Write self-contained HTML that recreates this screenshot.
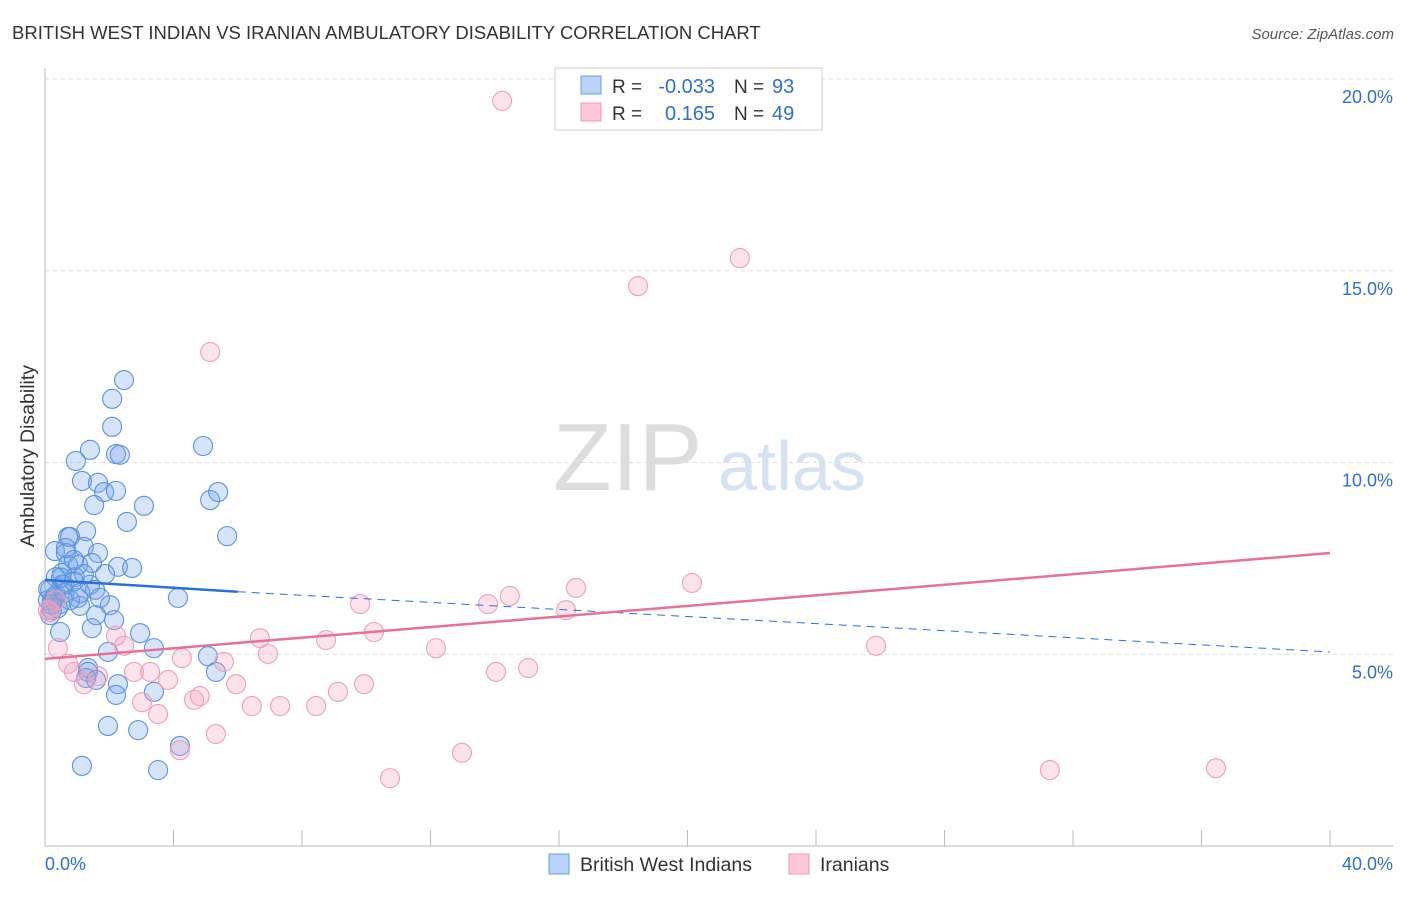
<!DOCTYPE html>
<html><head><meta charset="utf-8"><style>
body{margin:0;background:#fff;font-family:"Liberation Sans",sans-serif;}
svg text{font-family:"Liberation Sans",sans-serif;}
</style></head><body>
<svg id="c" width="1406" height="892">
<text x="12" y="39" font-size="18.5" fill="#333">BRITISH WEST INDIAN VS IRANIAN AMBULATORY DISABILITY CORRELATION CHART</text>
<text x="1394" y="39" font-size="15" fill="#555" font-style="italic" text-anchor="end">Source: ZipAtlas.com</text>
<text x="553" y="490" font-size="96" fill="#ddd" font-family="Liberation Serif">ZIP</text>
<text x="718" y="490" font-size="70" fill="#d4e2f4">atlas</text>
<g id="grid"></g>
<g id="axes"></g>
<g id="marks"></g>
<text transform="translate(34,456) rotate(-90)" font-size="19.5" fill="#333" text-anchor="middle">Ambulatory Disability</text>
<g>
<rect x="555" y="68" width="267" height="62" fill="#fff" stroke="#ccc"/>
<rect x="581" y="76" width="20" height="18" fill="#b8d3f5" stroke="#6a9de0"/>
<rect x="581" y="103" width="20" height="18" fill="#fac8d6" stroke="#ec9ab4"/>
<text x="612" y="93" font-size="19" fill="#333">R =</text>
<text x="715" y="93" font-size="20" fill="#2c6fd6" text-anchor="end">-0.033</text>
<text x="734" y="93" font-size="19" fill="#333">N =</text>
<text x="772" y="93" font-size="20" fill="#2c6fd6">93</text>
<text x="612" y="120" font-size="19" fill="#333">R =</text>
<text x="715" y="120" font-size="20" fill="#2c6fd6" text-anchor="end">0.165</text>
<text x="734" y="120" font-size="19" fill="#333">N =</text>
<text x="772" y="120" font-size="20" fill="#2c6fd6">49</text>
</g>
<g>
<rect x="549" y="854" width="20" height="20" fill="#b8d3f5" stroke="#6a9de0"/>
<text x="580" y="871" font-size="19.5" fill="#333">British West Indians</text>
<rect x="789" y="854" width="20" height="20" fill="#fac8d6" stroke="#ec9ab4"/>
<text x="820" y="871" font-size="19.5" fill="#333">Iranians</text>
</g>
</svg>
<script>
const blueX=[2.46,2.09,2.09,2.21,2.33,1.40,0.96,1.15,1.65,1.84,2.21,1.53,3.08,2.55,4.92,5.14,5.39,5.67,0.72,0.78,1.28,0.31,0.65,1.21,1.65,0.72,1.03,0.53,1.46,2.27,2.71,1.87,0.34,0.93,1.40,0.59,0.16,0.22,0.47,1.03,1.56,1.09,2.02,2.15,4.14,0.47,1.46,2.96,1.96,3.39,5.07,5.32,1.34,1.34,1.28,1.59,2.27,2.21,3.39,1.96,2.90,4.20,1.15,3.52,0.09,0.22,0.34,0.53,0.78,1.71,1.21,0.90,0.65,1.59,0.16,0.3,0.1,0.4,0.6,0.9,1.1,0.2,0.5];
const blueY=[12.15,11.66,10.93,10.22,10.20,10.33,10.04,9.52,9.47,9.23,9.26,8.89,8.87,8.45,10.43,9.02,9.23,8.08,8.06,8.06,8.21,7.69,7.64,7.80,7.64,7.33,7.33,7.12,7.38,7.28,7.25,7.09,7.01,7.01,6.81,6.81,6.68,6.41,6.31,6.47,6.68,6.26,6.28,5.89,6.47,5.58,5.68,5.55,5.06,5.16,4.95,4.54,4.64,4.54,4.38,4.33,4.22,3.94,4.02,3.13,3.02,2.61,2.09,1.98,6.41,6.15,6.54,6.81,6.41,6.47,7.09,7.46,7.77,6.02,6.02,6.5,6.7,6.2,6.6,6.9,6.6,6.3,7.0];
const pinkX=[14.23,21.63,18.46,5.14,20.14,16.53,14.47,13.79,9.81,16.22,25.87,12.17,15.04,14.04,10.24,8.75,6.69,6.94,2.21,2.46,4.26,5.57,0.40,0.72,0.90,3.27,2.77,1.65,1.21,3.83,5.95,9.93,9.12,4.82,4.64,3.02,6.44,7.32,8.44,3.52,5.32,4.20,12.98,10.74,31.28,36.45,0.16,0.34,0.09];
const pinkY=[19.43,15.33,14.60,12.88,6.86,6.73,6.52,6.31,6.31,6.15,5.22,5.16,4.64,4.54,5.58,5.37,5.42,5.01,5.48,5.22,4.90,4.80,5.16,4.75,4.54,4.54,4.54,4.43,4.22,4.33,4.22,4.22,4.02,3.91,3.81,3.75,3.65,3.65,3.65,3.44,2.92,2.50,2.43,1.77,1.98,2.03,6.10,6.41,6.15];
const yTicks=[5,10,15,20];
const yTickLabels=["5.0%","10.0%","15.0%","20.0%"];
const xTicks=[0,4,8,12,16,20,24,28,32,36,40];
const blueTrend=[[0,6.94],[6,6.63],[40,5.06]];
const pinkTrend=[[0,4.88],[40,7.64]];
const NS="http://www.w3.org/2000/svg";
const X=v=>45+v/40*1285, Y=v=>846-v*38.35;
function mk(t,a,p){const e=document.createElementNS(NS,t);for(const k in a)e.setAttribute(k,a[k]);p.appendChild(e);return e;}
const grid=document.getElementById('grid'),axes=document.getElementById('axes'),marks=document.getElementById('marks');
yTicks.forEach((t,i)=>{const l=mk('line',{x1:45,x2:1394,y1:Y(t),y2:Y(t),stroke:'#ddd','stroke-dasharray':'4,4'},grid);


const tx=mk('text',{x:1393,y:Y(t)+24,'font-size':18,fill:'#2c6fd6','text-anchor':'end'},axes);tx.textContent=yTickLabels[i];

});
const ax=mk('line',{x1:45,x2:45,y1:68,y2:846,stroke:'#bbb'},axes);


const bx=mk('line',{x1:45,x2:1394,y1:846,y2:846,stroke:'#bbb'},axes);


xTicks.forEach(t=>{const l=mk('line',{x1:X(t),x2:X(t),y1:830,y2:846,stroke:'#bbb'},axes);

});
const x0=mk('text',{x:45,y:870,'font-size':18,fill:'#2c6fd6'},axes);x0.textContent='0.0%';


const x1=mk('text',{x:1393,y:870,'font-size':18,fill:'#2c6fd6','text-anchor':'end'},axes);x1.textContent='40.0%';


function pts(xs,ys,fill,stroke,name){xs.forEach((x,i)=>{const c=mk('circle',{cx:X(x),cy:Y(ys[i]),r:9.5,fill:fill,stroke:stroke,'stroke-width':1.1},marks);

});}
pts(blueX,blueY,'rgba(120,165,235,0.3)','#5b93dc','british-west-indian-point');
pts(pinkX,pinkY,'rgba(245,160,190,0.3)','#eba0b9','iranian-point');
const bt1=mk('line',{x1:X(blueTrend[0][0]),y1:Y(blueTrend[0][1]),x2:X(blueTrend[1][0]),y2:Y(blueTrend[1][1]),stroke:'#2c6fd6','stroke-width':2.5},marks);


const bt2=mk('line',{x1:X(blueTrend[1][0]),y1:Y(blueTrend[1][1]),x2:X(blueTrend[2][0]),y2:Y(blueTrend[2][1]),stroke:'#2c6fd6','stroke-width':1,'stroke-dasharray':'8,6'},marks);


const pt=mk('line',{x1:X(pinkTrend[0][0]),y1:Y(pinkTrend[0][1]),x2:X(pinkTrend[1][0]),y2:Y(pinkTrend[1][1]),stroke:'#e8709a','stroke-width':2.5},marks);


</script>
</body></html>
